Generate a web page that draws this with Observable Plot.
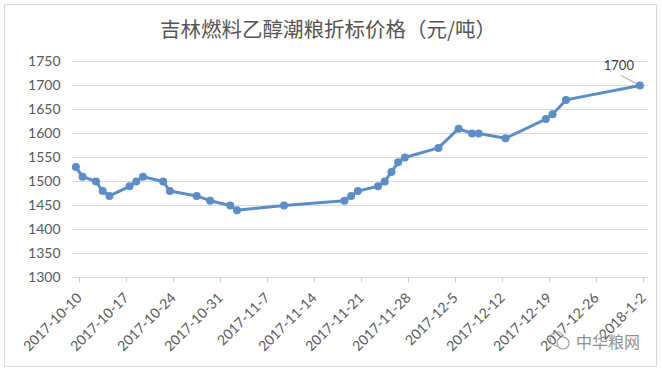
<!DOCTYPE html>
<html><head><meta charset="utf-8">
<script src="https://cdn.jsdelivr.net/npm/d3@7"></script>
<script src="https://cdn.jsdelivr.net/npm/@observablehq/plot@0.6"></script>
<style>
body{margin:0;background:#fff;}
#wrap{position:relative;width:662px;height:370px;overflow:hidden;background:#fff;}
#frame{position:absolute;left:4px;top:4px;width:653px;height:363px;border:1px solid #d9d9d9;box-sizing:border-box;}
#title{position:absolute;left:0;top:13px;width:656px;text-align:center;font-family:"Noto Sans CJK SC";font-size:20.5px;color:#555555;line-height:30px;}
#chart{position:absolute;left:0;top:0;}
#wm{position:absolute;left:548px;top:329px;font-family:"Noto Sans CJK SC";font-size:16px;color:#8f8f8f;line-height:24px;display:flex;align-items:center;gap:4px;}
</style></head>
<body>
<div id="wrap">
  <div id="frame"></div>
  <div id="chart"></div>
  <div id="title"></div>
  <div id="wm"><svg width="24" height="22"><circle cx="9" cy="9" r="7" fill="none" stroke="#a0a0a0" stroke-width="1.2"/><circle cx="15" cy="13" r="6" fill="#fff" stroke="#a0a0a0" stroke-width="1.2"/></svg><span id="wmtext"></span></div>
</div>
<script>
const title = "吉林燃料乙醇潮粮折标价格（元/吨）";
const watermark = "中华粮网";
const dates = ["2017-10-10","2017-10-11","2017-10-13","2017-10-14","2017-10-15","2017-10-18","2017-10-19","2017-10-20","2017-10-23","2017-10-24","2017-10-28","2017-10-30","2017-11-2","2017-11-3","2017-11-10","2017-11-19","2017-11-20","2017-11-21","2017-11-24","2017-11-25","2017-11-26","2017-11-27","2017-11-28","2017-12-3","2017-12-6","2017-12-8","2017-12-9","2017-12-13","2017-12-19","2017-12-20","2017-12-22","2018-1-2"];
const prices = [1530,1510,1500,1480,1470,1490,1500,1510,1500,1480,1470,1460,1450,1440,1450,1460,1470,1480,1490,1500,1520,1540,1550,1570,1610,1600,1600,1590,1630,1640,1670,1700];
const xTickLabels = ["2017-10-10","2017-10-17","2017-10-24","2017-10-31","2017-11-7","2017-11-14","2017-11-21","2017-11-28","2017-12-5","2017-12-12","2017-12-19","2017-12-26","2018-1-2"];
const yTicks = [1300,1350,1400,1450,1500,1550,1600,1650,1700,1750];

document.getElementById("title").textContent = title;
document.getElementById("wmtext").textContent = watermark;

const parse = d3.utcParse("%Y-%m-%d");
// Excel date axis places each point in the middle of its day slot
const data = dates.map((d, i) => ({date: d3.utcHour.offset(parse(d), 12), price: prices[i]}));
const last = data[data.length - 1];
const xTickDates = xTickLabels.map(parse);
const labelOf = new Map(xTickDates.map((d, i) => [+d, xTickLabels[i]]));
const blue = "#5B8DC8";

const chart = Plot.plot({
  width: 662, height: 370,
  marginLeft: 72, marginRight: 14, marginTop: 61, marginBottom: 93,
  x: {type: "utc", domain: [xTickDates[0], xTickDates[xTickDates.length - 1]], range: [72, 636]},
  y: {domain: [1300, 1750], range: [277, 61]},
  style: {fontFamily: "Lato", fontSize: "14px", color: "#595959", background: "transparent"},
  marks: [
    Plot.ruleY(yTicks, {stroke: "#d9d9d9", strokeWidth: 1}),
    Plot.axisY({ticks: yTicks, tickFormat: d => String(d), tickSize: 0, tickPadding: 12, label: null, fontSize: 14, color: "#595959"}),
    Plot.axisX({ticks: xTickDates, tickFormat: d => labelOf.get(+d), tickRotate: -45, tickSize: 5, tickPadding: 13, dx: 7, stroke: "#d0d0d0", color: "#595959", label: null, fontSize: 14}),
    Plot.vector([last], {x: "date", y: "price", length: 21, rotate: -62, anchor: "start", stroke: "#a6a6a6", strokeWidth: 1,
      shape: {draw(ctx, l) { ctx.moveTo(0, 0); ctx.lineTo(0, -l); }}}),
    Plot.line(data, {x: "date", y: "price", stroke: blue, strokeWidth: 3}),
    Plot.dot(data, {x: "date", y: "price", r: 4, fill: blue}),
    Plot.text([last], {x: "date", y: "price", text: d => String(d.price), dx: -21, dy: -20, fill: "#404040", fontSize: 13})
  ]
});
document.getElementById("chart").appendChild(chart);
</script>
</body></html>
